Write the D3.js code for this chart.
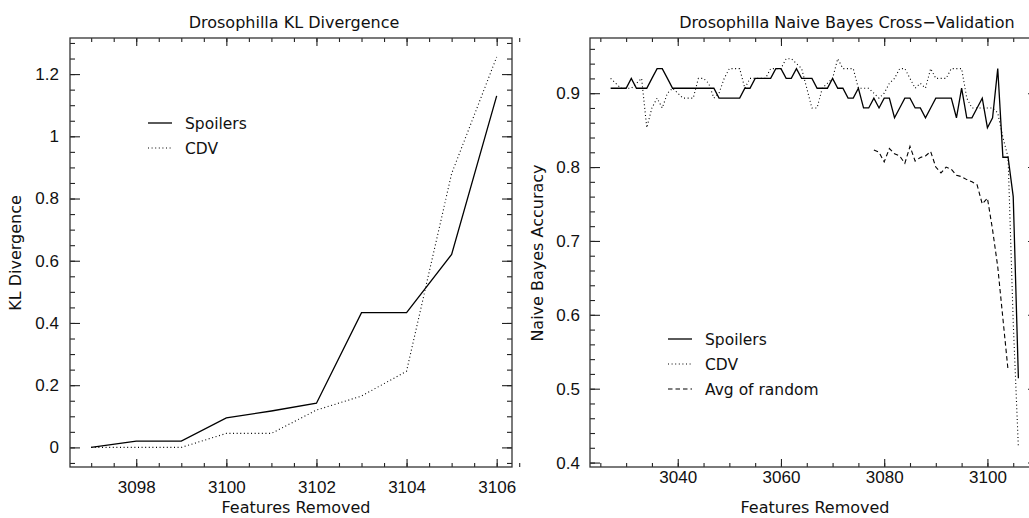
<!DOCTYPE html>
<html>
<head>
<meta charset="utf-8">
<script src="https://cdn.jsdelivr.net/npm/d3@7"></script>
<style>
  body { margin: 0; background: #fff; }
  svg { display: block; font-family: "DejaVu Sans", sans-serif; }
  .tick text { font-size: 17px; fill: #111; }
  .tick line { stroke: #222; stroke-width: 1.1; }
  .domain { display: none; }
</style>
</head>
<body>
<svg id="chart" width="1029" height="518"></svg>
<script>
// ---- KL divergence panel ----
var kl_features = [3097, 3098, 3099, 3100, 3101, 3102, 3103, 3104, 3105, 3106];
var kl_spoilers = [0, 0.02, 0.02, 0.095, 0.117, 0.142, 0.433, 0.433, 0.62, 1.13];
var kl_cdv      = [0, 0, 0, 0.045, 0.045, 0.12, 0.165, 0.245, 0.88, 1.255];
var kl_xticks = [3098, 3100, 3102, 3104, 3106];
var kl_yticks = [0, 0.2, 0.4, 0.6, 0.8, 1, 1.2];

// ---- naive bayes panel ----
var nb_features = [3027, 3028, 3029, 3030, 3031, 3032, 3033, 3034, 3035, 3036,
  3037, 3038, 3039, 3040, 3041, 3042, 3043, 3044, 3045, 3046,
  3047, 3048, 3049, 3050, 3051, 3052, 3053, 3054, 3055, 3056,
  3057, 3058, 3059, 3060, 3061, 3062, 3063, 3064, 3065, 3066,
  3067, 3068, 3069, 3070, 3071, 3072, 3073, 3074, 3075, 3076,
  3077, 3078, 3079, 3080, 3081, 3082, 3083, 3084, 3085, 3086,
  3087, 3088, 3089, 3090, 3091, 3092, 3093, 3094, 3095, 3096,
  3097, 3098, 3099, 3100, 3101, 3102, 3103, 3104, 3105, 3106];
var nb_spoilers = [0.9067, 0.9067, 0.9067, 0.9067, 0.92, 0.9067, 0.9067, 0.9067, 0.92, 0.9333,
  0.9333, 0.92, 0.9067, 0.9067, 0.9067, 0.9067, 0.9067, 0.9067, 0.9067, 0.9067,
  0.9067, 0.8933, 0.8933, 0.8933, 0.8933, 0.8933, 0.9067, 0.9067, 0.92, 0.92,
  0.92, 0.92, 0.9333, 0.9333, 0.92, 0.92, 0.9333, 0.92, 0.92, 0.92,
  0.9067, 0.9067, 0.9067, 0.92, 0.9067, 0.9067, 0.8933, 0.8933, 0.9067, 0.88,
  0.88, 0.8933, 0.88, 0.8933, 0.8933, 0.8667, 0.88, 0.8933, 0.8933, 0.88,
  0.88, 0.8667, 0.88, 0.8933, 0.8933, 0.8933, 0.8933, 0.8667, 0.9067, 0.8667,
  0.8667, 0.88, 0.8933, 0.8533, 0.8667, 0.9333, 0.8133, 0.8133, 0.76, 0.514];
var nb_cdv = [0.92, 0.9133, 0.9067, 0.9067, 0.9067, 0.9133, 0.92, 0.8533, 0.88, 0.8933,
  0.88, 0.9, 0.9067, 0.9, 0.8933, 0.8933, 0.8933, 0.92, 0.92, 0.9133,
  0.8933, 0.9, 0.92, 0.9333, 0.9333, 0.9333, 0.9067, 0.92, 0.92, 0.92,
  0.92, 0.9333, 0.9333, 0.9333, 0.9467, 0.9467, 0.94, 0.9333, 0.9067, 0.88,
  0.88, 0.9067, 0.9133, 0.92, 0.9467, 0.9333, 0.9333, 0.9333, 0.9067, 0.9067,
  0.9067, 0.9, 0.8933, 0.9, 0.9133, 0.92, 0.9333, 0.9333, 0.92, 0.9067,
  0.9133, 0.9067, 0.9333, 0.92, 0.92, 0.92, 0.9333, 0.9333, 0.9333, 0.8933,
  0.88, 0.88, 0.88, 0.88, 0.88, 0.8733, 0.84, 0.8133, 0.59, 0.42];
var rnd_features = [3078, 3079, 3080, 3081, 3082, 3083, 3084, 3085, 3086, 3087,
  3088, 3089, 3090, 3091, 3092, 3093, 3094, 3095, 3096, 3097,
  3098, 3099, 3100, 3101, 3102, 3103, 3104];
var rnd_avg = [0.823, 0.82, 0.807, 0.825, 0.818, 0.815, 0.805, 0.828, 0.808, 0.813,
  0.815, 0.821, 0.80, 0.792, 0.80, 0.797, 0.789, 0.787, 0.783, 0.78,
  0.776, 0.75, 0.758, 0.715, 0.665, 0.595, 0.525];
var nb_xticks = [3040, 3060, 3080, 3100];
var nb_yticks = [0.4, 0.5, 0.6, 0.7, 0.8, 0.9];

var svg = d3.select("#chart");

var styles = {
  solid:  null,
  dotted: "1,2.6",
  dashed: "4.5,3"
};

// draws one IDL style box plot
function drawPanel(p) {
  var g = svg.append("g");
  var x = d3.scaleLinear().domain(p.xdom).range([p.left, p.right]);
  var y = d3.scaleLinear().domain(p.ydom).range([p.bottom, p.top]);

  function ax(gen, scale, vals, size, fmt, pad, tr) {
    g.append("g").attr("transform", tr)
      .call(gen(scale).tickValues(vals).tickSize(-size).tickPadding(pad)
        .tickFormat(fmt));
  }
  var none = function () { return ""; };
  var yfmt = function (d) { return String(+d.toFixed(2)); };

  // minor ticks all round
  ax(d3.axisBottom, x, p.xminor, 4, none, 0, "translate(0," + p.bottom + ")");
  ax(d3.axisTop, x, p.xminor, 4, none, 0, "translate(0," + p.top + ")");
  ax(d3.axisLeft, y, p.yminor, 5, none, 0, "translate(" + p.left + ",0)");
  ax(d3.axisRight, y, p.yminor, 5, none, 0, "translate(" + p.right + ",0)");
  // major ticks
  ax(d3.axisBottom, x, p.xticks, 8, d3.format("d"), p.xpad, "translate(0," + p.bottom + ")");
  ax(d3.axisTop, x, p.xticks, 8, none, 0, "translate(0," + p.top + ")");
  ax(d3.axisLeft, y, p.yticks, 10, yfmt, p.ypad, "translate(" + p.left + ",0)");
  ax(d3.axisRight, y, p.yticks, 10, none, 0, "translate(" + p.right + ",0)");

  g.append("rect")
    .attr("x", p.left).attr("y", p.top)
    .attr("width", p.right - p.left).attr("height", p.bottom - p.top)
    .attr("fill", "none").attr("stroke", "#333").attr("stroke-width", 1.3);

  var line = d3.line().x(function (d) { return x(d[0]); }).y(function (d) { return y(d[1]); });
  p.series.forEach(function (s) {
    var pts = s.xs.map(function (v, i) { return [v, s.ys[i]]; });
    g.append("path").datum(pts)
      .attr("d", line)
      .attr("fill", "none")
      .attr("stroke", "#000")
      .attr("stroke-width", s.style == "solid" ? 1.3 : 1.1)
      .attr("stroke-dasharray", styles[s.style]);
  });

  // legend
  p.series.forEach(function (s, i) {
    var ly = p.legend[1] + i * 25;
    g.append("line")
      .attr("x1", p.legend[0]).attr("x2", p.legend[0] + 24)
      .attr("y1", ly).attr("y2", ly)
      .attr("stroke", "#000").attr("stroke-width", s.style == "solid" ? 1.3 : 1.1)
      .attr("stroke-dasharray", styles[s.style]);
    g.append("text")
      .attr("x", p.legend[0] + 37).attr("y", ly + 5.5)
      .attr("font-size", 15.5).attr("fill", "#111")
      .text(s.name);
  });

  g.append("text")
    .attr("x", p.titleX).attr("y", 28)
    .attr("text-anchor", "middle").attr("font-size", 16).attr("fill", "#111")
    .text(p.title);
  g.append("text")
    .attr("x", p.xlabX).attr("y", 513)
    .attr("text-anchor", "middle").attr("font-size", 16).attr("fill", "#111")
    .text("Features Removed");
  g.append("text")
    .attr("transform", "translate(" + p.ylabX + ",253) rotate(-90)")
    .attr("text-anchor", "middle").attr("font-size", 16).attr("fill", "#111")
    .text(p.ylab);
}

drawPanel({
  left: 70, right: 512, top: 38, bottom: 467,
  xdom: [3096.53, 3106.34], ydom: [-0.063, 1.316],
  xticks: kl_xticks, yticks: kl_yticks,
  xminor: d3.range(3097, 3106.6, 0.5), yminor: d3.range(-0.05, 1.32, 0.05),
  xpad: 14, ypad: 11,
  title: "Drosophilla KL Divergence", titleX: 294,
  xlabX: 296, ylab: "KL Divergence", ylabX: 21,
  legend: [148, 123],
  series: [
    { name: "Spoilers", xs: kl_features, ys: kl_spoilers, style: "solid" },
    { name: "CDV", xs: kl_features, ys: kl_cdv, style: "dotted" }
  ]
});

drawPanel({
  left: 590, right: 1038, top: 38, bottom: 467,
  xdom: [3023, 3109.8], ydom: [0.394, 0.9747],
  xticks: nb_xticks, yticks: nb_yticks,
  xminor: d3.range(3025, 3110, 5), yminor: d3.range(0.4, 0.975, 0.02),
  xpad: 4, ypad: 10,
  title: "Drosophilla Naive Bayes Cross\u2212Validation", titleX: 847,
  xlabX: 815, ylab: "Naive Bayes Accuracy", ylabX: 543,
  legend: [668, 339],
  series: [
    { name: "Spoilers", xs: nb_features, ys: nb_spoilers, style: "solid" },
    { name: "CDV", xs: nb_features, ys: nb_cdv, style: "dotted" },
    { name: "Avg of random", xs: rnd_features, ys: rnd_avg, style: "dashed" }
  ]
});
</script>
</body>
</html>
